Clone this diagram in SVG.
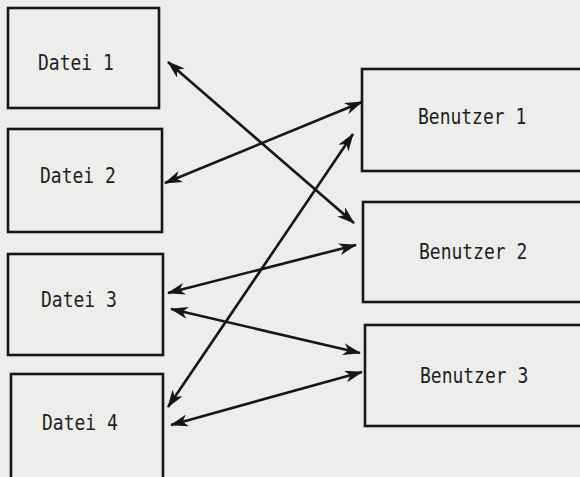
<svg xmlns="http://www.w3.org/2000/svg" width="580" height="477" viewBox="0 0 580 477">
<defs>
<style>
.box{fill:none;stroke:#161616;stroke-width:2.6}
.lbl{font-family:"DejaVu Sans Mono","Liberation Mono",monospace;font-size:18px;fill:#1e1e1e}
.con{stroke:#161616;stroke-width:2.6;fill:none;marker-start:url(#ah);marker-end:url(#ah)}
</style>
<marker id="ah" markerUnits="userSpaceOnUse" markerWidth="20" markerHeight="12" refX="17" refY="6" orient="auto-start-reverse" viewBox="0 0 20 12">
<path d="M0,0 L18,6 L0,12 L5,6 z" fill="#161616"/>
</marker>
</defs>
<rect width="580" height="477" fill="#ededeb"/>
<g id="datei1"><rect class="box" x="8" y="8" width="151" height="100"/><text class="lbl" transform="translate(38,70) scale(1,1.15)">Datei 1</text></g>
<g id="datei2"><rect class="box" x="8" y="129" width="154" height="103"/><text class="lbl" transform="translate(40,183) scale(1,1.15)">Datei 2</text></g>
<g id="datei3"><rect class="box" x="8" y="254" width="155" height="101"/><text class="lbl" transform="translate(41,307) scale(1,1.15)">Datei 3</text></g>
<g id="datei4"><rect class="box" x="11" y="374" width="152" height="110"/><text class="lbl" transform="translate(42,430) scale(1,1.15)">Datei 4</text></g>
<g id="benutzer1"><rect class="box" x="362" y="69" width="240" height="102"/><text class="lbl" transform="translate(418,124) scale(1,1.15)">Benutzer 1</text></g>
<g id="benutzer2"><rect class="box" x="363" y="202" width="240" height="100"/><text class="lbl" transform="translate(419,259) scale(1,1.15)">Benutzer 2</text></g>
<g id="benutzer3"><rect class="box" x="365" y="325" width="240" height="101"/><text class="lbl" transform="translate(420,383) scale(1,1.15)">Benutzer 3</text></g>
<g id="connectors">
<line class="con" x1="168" y1="62" x2="354" y2="223"/>
<line class="con" x1="165" y1="183" x2="362" y2="102"/>
<line class="con" x1="168" y1="407" x2="353" y2="134"/>
<line class="con" x1="168" y1="293" x2="356" y2="245"/>
<line class="con" x1="171" y1="309" x2="360" y2="353"/>
<line class="con" x1="171" y1="425" x2="362" y2="372"/>
</g>
</svg>
